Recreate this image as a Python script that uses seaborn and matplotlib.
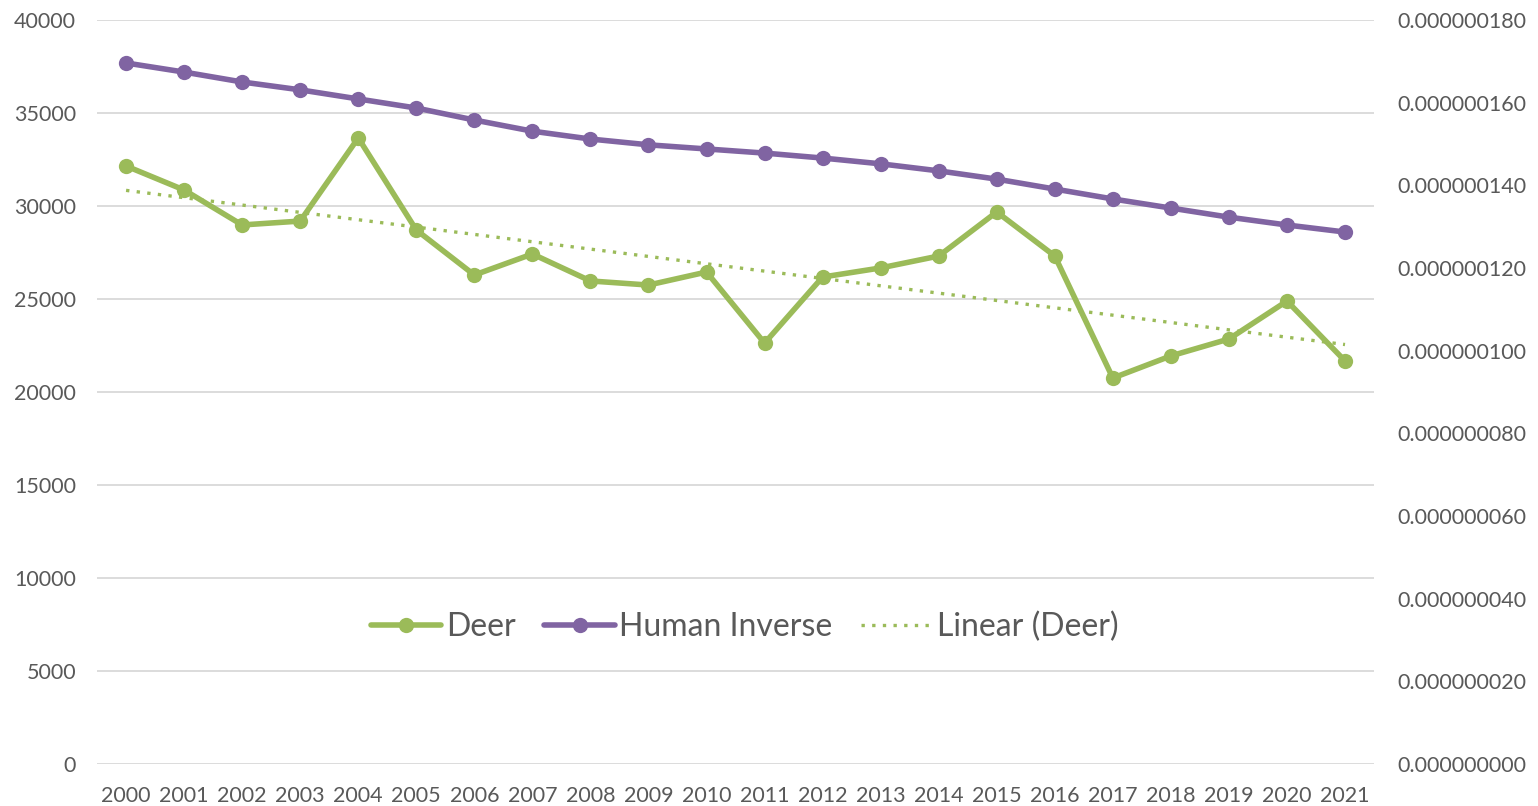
import numpy as np
import pandas as pd
import matplotlib.pyplot as plt
import seaborn as sns
from matplotlib.ticker import FormatStrFormatter

years = list(range(2000, 2022))
deer = [32150, 30860, 28980, 29190, 33660, 28710, 26290, 27420, 25970, 25750, 26450,
        22630, 26180, 26670, 27310, 29680, 27310, 20750, 21940, 22850, 24890, 21670]
human_inverse = [1.696e-7, 1.674e-7, 1.650e-7, 1.631e-7, 1.609e-7, 1.587e-7, 1.558e-7,
                 1.531e-7, 1.512e-7, 1.498e-7, 1.488e-7, 1.478e-7, 1.466e-7, 1.452e-7,
                 1.435e-7, 1.415e-7, 1.391e-7, 1.367e-7, 1.345e-7, 1.323e-7, 1.304e-7, 1.287e-7]

GREEN = '#9BBB59'
PURPLE = '#8064A2'
TEXT = '#595959'

sns.set_theme(style='white')
plt.rcParams['font.family'] = ['Lato', 'DejaVu Sans']

df = pd.DataFrame({'idx': np.arange(len(years)), 'year': years,
                   'deer': deer, 'human': human_inverse})

fig = plt.figure(figsize=(15.38, 8.06), dpi=100)
ax = fig.add_axes([0.0631, 0.0521, 0.8303, 0.9231])

sns.lineplot(data=df, x='idx', y='deer', ax=ax, color=GREEN, lw=4,
             marker='o', markersize=11, markeredgewidth=0, label='Deer')

# linear trendline of the deer series
coef = np.polyfit(df['idx'], df['deer'], 1)
df['trend'] = np.polyval(coef, df['idx'])
sns.lineplot(data=df, x='idx', y='trend', ax=ax, color=GREEN, lw=2.4,
             linestyle=(0, (1, 2.2)), label='Linear (Deer)', zorder=3)

ax2 = ax.twinx()
sns.lineplot(data=df, x='idx', y='human', ax=ax2, color=PURPLE, lw=4,
             marker='o', markersize=11, markeredgewidth=0, label='Human Inverse')

ax.set_xlim(-0.5, len(years) - 0.5)
ax.set_ylim(0, 40000)
ax.set_yticks(range(0, 40001, 5000))
ax2.set_ylim(0, 1.8e-7)
ax2.set_yticks(np.arange(0, 10) * 2e-8)
ax2.yaxis.set_major_formatter(FormatStrFormatter('%.9f'))

ax.set_xticks(df['idx'])
ax.set_xticklabels([str(y) for y in years])

ax.grid(axis='y', color='#d9d9d9', lw=1.3)
ax.set_axisbelow(True)
for a in (ax, ax2):
    for s in a.spines.values():
        s.set_visible(False)
    a.set_xlabel('')
    a.set_ylabel('')
ax.tick_params(axis='y', length=0, pad=15, labelsize=15.5, labelcolor=TEXT)
ax.tick_params(axis='x', length=0, pad=16, labelsize=15.5, labelcolor=TEXT)
ax2.tick_params(axis='y', length=0, pad=17, labelsize=15.5, labelcolor=TEXT)

ax.get_legend().remove()
ax2.get_legend().remove()
h1, l1 = ax.get_legend_handles_labels()
h2, l2 = ax2.get_legend_handles_labels()
handles = [h1[0], h2[0], h1[1]]
labels = [l1[0], l2[0], l1[1]]
leg = ax2.legend(handles, labels, loc='center', bbox_to_anchor=(0.507, 0.184),
                 ncol=3, frameon=False, fontsize=23, handlelength=2.2,
                 handletextpad=0.15, columnspacing=0.9)
for t in leg.get_texts():
    t.set_color(TEXT)

fig.savefig('out.png', dpi=100)
